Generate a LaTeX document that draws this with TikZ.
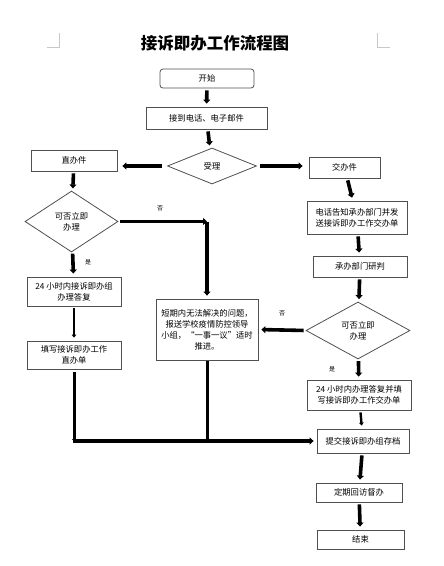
\documentclass[tikz,border=0pt]{standalone}
\usepackage{fontspec}
\setmainfont{Noto Sans CJK SC}
\usepackage{tikz}
\definecolor{white}{rgb}{1.0, 1.0, 1.0}
\definecolor{black}{rgb}{0.0, 0.0, 0.0}
\definecolor{edgegray}{RGB}{80,80,80}
\definecolor{markgray}{RGB}{200,200,200}
\usetikzlibrary{arrows.meta}
\usetikzlibrary{shapes.geometric}
\pgfdeclarelayer{edgelayer}
\pgfdeclarelayer{nodelayer}
\pgfsetlayers{edgelayer,nodelayer,main}
\tikzstyle{box}=[rectangle,fill=white,draw=edgegray,line width=0.8pt,align=center,inner sep=1pt,font=\fontsize{8.3}{11}\selectfont]
\tikzstyle{startbox}=[box,rounded corners=3pt]
\tikzstyle{decision}=[diamond,fill=white,draw=edgegray,line width=0.8pt,align=center,inner sep=0pt,font=\fontsize{8.3}{11}\selectfont]
\tikzstyle{flow}=[line width=3.6pt,-{Triangle[length=4pt,width=7pt]},shorten <=2pt,shorten >=3pt]
\tikzstyle{thinflow}=[line width=1.8pt,-{Triangle[length=3pt,width=4.5pt]},shorten <=2pt,shorten >=3pt]
\tikzstyle{tag}=[font=\fontsize{6}{7}\selectfont]

\begin{document}
\begin{tikzpicture}[x=1pt,y=-1pt]
            \useasboundingbox (0,0) rectangle (444,566);

            \begin{pgfonlayer}{nodelayer}
            \node [font=\fontsize{16.5}{18}\selectfont\bfseries] (title) at (215, 43) {接诉即办工作流程图};

            \node [style = startbox, minimum width=94pt, minimum height=19pt] (start) at (207, 78.5) {开始};
            \node [style = box, minimum width=121pt, minimum height=22pt] (recv) at (206.5, 118) {接到电话、电子邮件};
            \node [style = decision, minimum width=89pt, minimum height=36pt] (accept) at (212, 166) {受理};

            \node [style = box, minimum width=86pt, minimum height=21pt] (direct) at (74, 160.5) {直办件};
            \node [style = decision, minimum width=93pt, minimum height=61pt] (ldec) at (71.5, 221.5) {可否立即\\办理};
            \node [style = box, minimum width=94pt, minimum height=29pt] (reply) at (74, 291.5) {24 小时内接诉即办组\\办理答复};
            \node [style = box, minimum width=94pt, minimum height=28pt] (fill) at (74, 355) {填写接诉即办工作\\直办单};

            \node [style = box, minimum width=102pt, minimum height=61pt] (middle) at (207, 329.5) {短期内无法解决的问题，\\报送学校疫情防控领导\\小组，“一事一议”适时\\推进。};

            \node [style = box, minimum width=71pt, minimum height=21pt] (transfer) at (344.5, 167.5) {交办件};
            \node [style = box, minimum width=100pt, minimum height=33pt] (notify) at (357, 217.5) {电话告知承办部门并发\\送接诉即办工作交办单};
            \node [style = box, minimum width=94pt, minimum height=21pt] (judge) at (360, 266.5) {承办部门研判};
            \node [style = decision, minimum width=104pt, minimum height=57pt] (rdec) at (358, 330.5) {可否立即\\办理};
            \node [style = box, minimum width=104pt, minimum height=30pt] (rreply) at (359, 395) {24 小时内办理答复并填\\写接诉即办工作交办单};
            \node [style = box, minimum width=92pt, minimum height=24pt] (archive) at (363, 441) {提交接诉即办组存档};
            \node [style = box, minimum width=86pt, minimum height=19pt] (visit) at (359, 492.5) {定期回访督办};
            \node [style = box, minimum width=87pt, minimum height=19pt] (finish) at (360.5, 539.5) {结束};

            \node [style = tag] (no1) at (160, 208) {否};
            \node [style = tag] (yes1) at (88, 262) {是};
            \node [style = tag] (no2) at (282, 313) {否};
            \node [style = tag] (yes2) at (332, 369) {是};
            \end{pgfonlayer}

        \begin{pgfonlayer}{edgelayer}
            \coordinate (lturn) at (middle.north |- ldec.east);
            \coordinate (ljoin) at (fill.south |- archive.west);
            \coordinate (mjoin) at (middle.south |- archive.west);

            % page corner marks
            \draw [markgray, line width=0.6pt] (59, 33) -- (59, 47) -- (47, 47);
            \draw [markgray, line width=0.6pt] (377, 33) -- (377, 47) -- (390, 47);

            \draw [flow] (start) to (recv);
            \draw [flow] (recv) to (accept);
            \draw [flow, shorten <=5pt, shorten >=5pt] (accept.west) to (accept.west -| direct.east);
            \draw [flow, shorten <=3pt, shorten >=6pt] (accept.east) to (accept.east -| transfer.west);

            \draw [flow] (direct) to (ldec);
            \draw [flow, shorten >=0pt] (ldec.east) to (lturn);
            \draw [flow, shorten <=0pt] (lturn) to (middle);
            \draw [flow] (ldec) to (reply);
            \draw [thinflow] (reply) to (fill);

            \draw [flow] (transfer) to (notify);
            \draw [flow] (notify) to (judge);
            \draw [flow] (judge) to (rdec);
            \draw [flow] (rdec.west) to (middle.east);
            \draw [flow] (rdec) to (rreply);
            \draw [thinflow, line width=2.4pt] (rreply) to (archive);
            \draw [flow] (archive) to (visit);
            \draw [flow] (visit) to (finish);

            \draw [line width=3pt, -{Triangle[length=2pt,width=4pt]}, shorten <=3pt] (fill.south) to (ljoin);
            \draw [line width=3pt, -{Triangle[length=2pt,width=4pt]}, shorten <=1pt] (middle.south) to (mjoin);
            \draw [flow, shorten <=-1.5pt] (ljoin) to (archive.west);
        \end{pgfonlayer}
    \end{tikzpicture}
\end{document}
